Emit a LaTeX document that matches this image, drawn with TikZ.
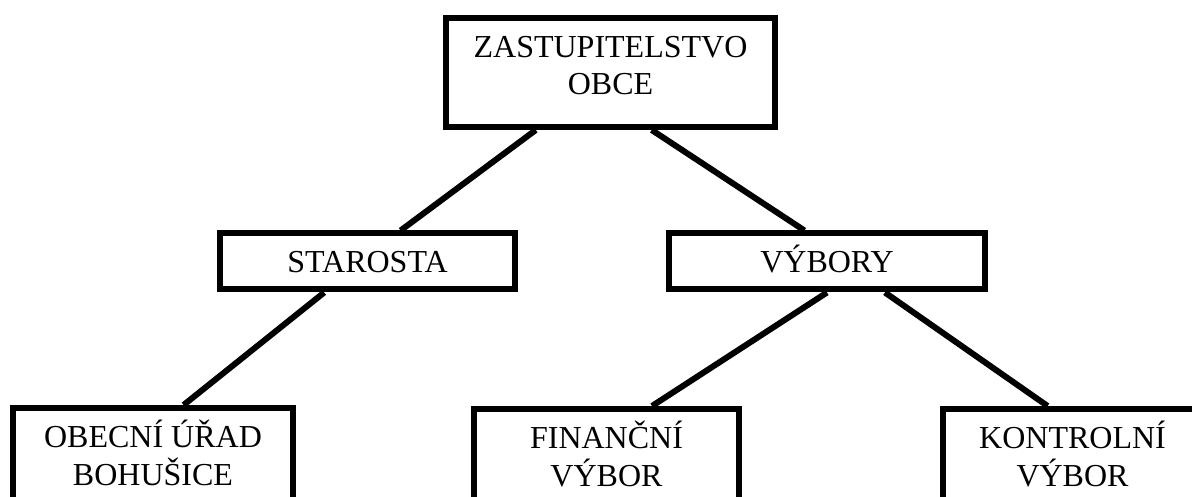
\documentclass[tikz,border=0pt]{standalone}
\usepackage{fontspec}
\setmainfont{Liberation Serif}
\usetikzlibrary{calc}
\begin{document}
\begin{tikzpicture}[x=1pt,y=-1pt,
  box/.style={draw, line width=6pt, inner xsep=0pt, inner ysep=9.5pt, align=center, font=\fontsize{32}{37.5}\selectfont},
  tallbox/.style={box, anchor=north},
  flatbox/.style={box, inner sep=0pt, minimum height=56pt, text height=22pt, text depth=0pt},
  link/.style={line width=6pt}]
\useasboundingbox (0,0) rectangle (1192,497);
\node[tallbox, minimum width=329pt] (zast) at (610.5,15) {\rule{0pt}{30pt}ZASTUPITELSTVO\\OBCE\rule[-22.5pt]{0pt}{22.5pt}};
\node[flatbox, minimum width=295pt] (star) at (367.5,261.5) {STAROSTA};
\node[flatbox, minimum width=316pt] (vyb) at (827,261.5) {VÝBORY};
\node[tallbox, minimum width=280pt] (obec) at (153,405) {\rule{0pt}{30pt}OBECNÍ ÚŘAD\\BOHUŠICE\rule[-22.5pt]{0pt}{22.5pt}};
\node[tallbox, minimum width=265pt] (fin) at (606.5,406) {\rule{0pt}{30pt}FINANČNÍ\\VÝBOR\rule[-22.5pt]{0pt}{22.5pt}};
\node[tallbox, minimum width=259pt] (kon) at (1072.5,406) {\rule{0pt}{30pt}KONTROLNÍ\\VÝBOR\rule[-22.5pt]{0pt}{22.5pt}};
\draw[link] ($(zast.south west)!0.277!(zast.south east)$) -- ($(star.north west)!0.61!(star.north east)$);
\draw[link] ($(zast.south west)!0.623!(zast.south east)$) -- ($(vyb.north west)!0.43!(vyb.north east)$);
\draw[link] ($(star.south west)!0.356!(star.south east)$) -- ($(obec.north west)!0.607!(obec.north east)$);
\draw[link] ($(vyb.south west)!0.5!(vyb.south east)$) -- ($(fin.north west)!0.668!(fin.north east)$);
\draw[link] ($(vyb.south west)!0.68!(vyb.south east)$) -- ($(kon.north west)!0.406!(kon.north east)$);
\end{tikzpicture}
\end{document}
